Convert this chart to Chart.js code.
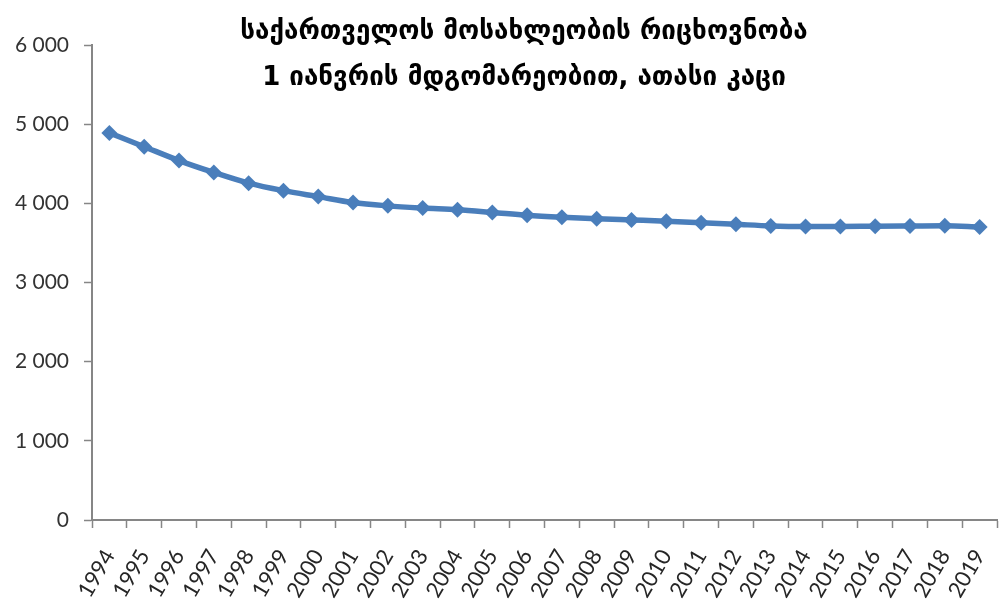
<!DOCTYPE html>
<html>
<head>
<meta charset="utf-8">
<script src="https://cdn.jsdelivr.net/npm/chart.js@4/dist/chart.umd.min.js"></script>
<style>
html,body{margin:0;padding:0;background:#fff;}
#wrap{width:1005px;height:607px;position:relative;}
</style>
</head>
<body>
<div id="wrap"><canvas id="c" width="1005" height="607"></canvas></div>
<script>
const titleLines = ["საქართველოს მოსახლეობის რიცხოვნობა", "1 იანვრის მდგომარეობით, ათასი კაცი"];
const years = ["1994","1995","1996","1997","1998","1999","2000","2001","2002","2003","2004","2005","2006","2007","2008","2009","2010","2011","2012","2013","2014","2015","2016","2017","2018","2019"];
const population = [4890,4715,4540,4390,4255,4160,4085,4010,3968,3940,3918,3885,3850,3825,3805,3790,3775,3755,3735,3715,3708,3708,3712,3714,3716,3702];
const yTicks = [0,1000,2000,3000,4000,5000,6000];

const titlePlugin = {
  id: 'overlayTitle',
  afterDraw(chart) {
    const ctx = chart.ctx;
    ctx.save();
    ctx.fillStyle = '#000';
    ctx.font = 'bold 26px "DejaVu Sans"';
    ctx.textAlign = 'center';
    ctx.textBaseline = 'middle';
    ctx.fillText(titleLines[0], 524, 32);
    ctx.fillText(titleLines[1], 524, 78);
    ctx.restore();
  }
};

function fmt(v){ return String(v).replace(/\B(?=(\d{3})+(?!\d))/g, ' '); }

new Chart(document.getElementById('c'), {
  type: 'line',
  data: {
    labels: years,
    datasets: [{
      data: population,
      borderColor: '#4A7EBB',
      backgroundColor: '#4A7EBB',
      borderWidth: 5.5,
      pointStyle: 'rectRot',
      pointRadius: 8,
      pointHoverRadius: 8,
      pointBorderWidth: 0,
      cubicInterpolationMode: 'monotone',
      fill: false
    }]
  },
  options: {
    responsive: false,
    animation: false,
    devicePixelRatio: 1,
    layout: { padding: { left: 0, right: 3, top: 45, bottom: 0 } },
    plugins: { legend: { display: false }, tooltip: { enabled: false }, title: { display: false } },
    scales: {
      x: {
        type: 'category',
        offset: true,
        afterFit(scale) { scale.height = 87; scale.paddingRight = 0; scale.paddingLeft = 0; },
        grid: { offset: true, drawOnChartArea: false, drawTicks: true, tickLength: 8, tickColor: '#868686', tickWidth: 1.5 },
        border: { color: '#868686', width: 2 },
        ticks: { color: '#262626', font: { family: 'Lato', size: 22 }, minRotation: 60, maxRotation: 60, autoSkip: false, padding: 17 }
      },
      y: {
        min: 0, max: 6000,
        afterFit(scale) { scale.width = 92; scale.paddingTop = 0; scale.paddingBottom = 0; },
        afterBuildTicks(scale) { scale.ticks = yTicks.map(v => ({ value: v })); },
        grid: { drawOnChartArea: false, drawTicks: true, tickLength: 8, tickColor: '#868686', tickWidth: 1.5 },
        border: { color: '#868686', width: 2 },
        ticks: { color: '#333', font: { family: 'Lato', size: 21 }, padding: 15, callback: v => fmt(v) }
      }
    }
  },
  plugins: [titlePlugin]
});
</script>
</body>
</html>
